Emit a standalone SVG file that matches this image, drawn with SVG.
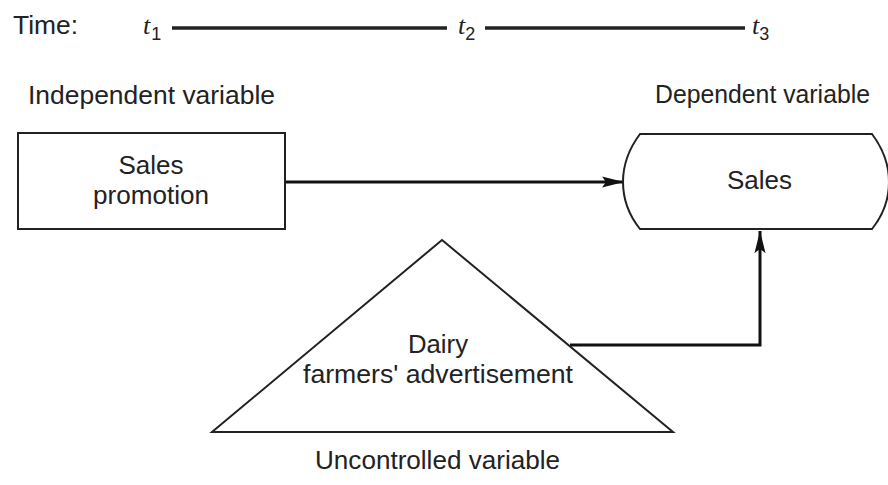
<svg xmlns="http://www.w3.org/2000/svg" width="888" height="485" viewBox="0 0 888 485">
<style>
  .lbl { font-family: "Liberation Sans", Arial, sans-serif; font-size: 26px; fill: #222; text-anchor: middle; }
  .time { font-family: "Liberation Sans", Arial, sans-serif; font-size: 26px; fill: #222; }
  .t { font-family: "Liberation Serif", "Times New Roman", serif; font-style: italic; font-size: 26px; fill: #222; }
  .sub { font-family: "Liberation Sans", Arial, sans-serif; font-style: normal; font-size: 18px; }
  .shape { fill: #fff; stroke: #222; stroke-width: 2; }
  .conn { fill: none; stroke: #111; stroke-width: 3; }
  .timeline { stroke: #222; stroke-width: 3.5; }
</style>
<defs>
  <marker id="arrow" markerUnits="userSpaceOnUse" markerWidth="22" markerHeight="12" refX="22" refY="6" orient="auto">
    <path d="M0,0.5 L22,6 L0,11.5 L4,6 z" fill="#111"/>
  </marker>
</defs>
<rect width="888" height="485" fill="#fff"/>

<g id="timeline">
  <text class="time" x="13" y="34" textLength="65" lengthAdjust="spacingAndGlyphs">Time:</text>
  <text class="t" x="143" y="34">t<tspan class="sub" dx="1" dy="6">1</tspan></text>
  <line class="timeline" x1="172" y1="28" x2="447" y2="28"/>
  <text class="t" x="458" y="34">t<tspan class="sub" dx="0" dy="6">2</tspan></text>
  <line class="timeline" x1="485" y1="28" x2="745" y2="28"/>
  <text class="t" x="752" y="34">t<tspan class="sub" dx="0" dy="6">3</tspan></text>
</g>

<g id="labels">
  <text class="lbl" x="151.5" y="104" textLength="247" lengthAdjust="spacingAndGlyphs">Independent variable</text>
  <text class="lbl" x="762.5" y="103" textLength="215" lengthAdjust="spacingAndGlyphs">Dependent variable</text>
  <text class="lbl" x="437.5" y="469" textLength="245" lengthAdjust="spacingAndGlyphs">Uncontrolled variable</text>
</g>

<g id="connectors">
  <line class="conn" x1="285" y1="182" x2="624" y2="182" marker-end="url(#arrow)"/>
  <polyline class="conn" points="570,345 760,345 760,231" marker-end="url(#arrow)"/>
</g>

<g id="sales-promotion">
  <rect class="shape" x="18" y="133" width="267" height="96"/>
  <text class="lbl" x="151" y="174" textLength="65" lengthAdjust="spacingAndGlyphs">Sales</text>
  <text class="lbl" x="151" y="204" textLength="116" lengthAdjust="spacingAndGlyphs">promotion</text>
</g>

<g id="sales">
  <path class="shape" d="M640,134 L872,134 C884,150 889,165 889,182 C889,199 884,214 872,229 L640,229 C628,214 623,199 623,182 C623,165 628,150 640,134 Z"/>
  <text class="lbl" x="759.5" y="189" textLength="65" lengthAdjust="spacingAndGlyphs">Sales</text>
</g>

<g id="dairy-ad">
  <polygon class="shape" points="442,240 673,432 212,432"/>
  <text class="lbl" x="438" y="353" textLength="60" lengthAdjust="spacingAndGlyphs">Dairy</text>
  <text class="lbl" x="438" y="383" textLength="270" lengthAdjust="spacingAndGlyphs">farmers' advertisement</text>
</g>
</svg>
